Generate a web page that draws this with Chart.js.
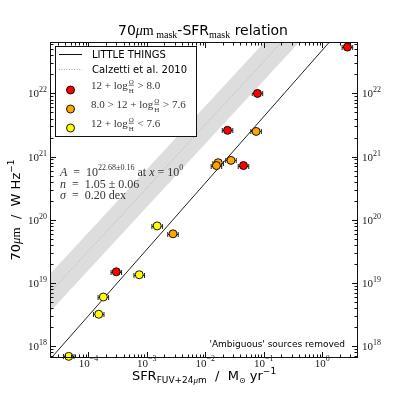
<!DOCTYPE html>
<html>
<head>
<meta charset="utf-8">
<script src="https://cdn.jsdelivr.net/npm/chart.js@4.4.0/dist/chart.umd.min.js"></script>
<style>
  html, body { margin: 0; padding: 0; background: #fff; }
</style>
</head>
<body>
<canvas id="myChart" width="399" height="399"></canvas>
<script>
// datos (SFR en Msun/yr, L70 en W/Hz, error en dex)
const redSfr = [2.7, 0.078, 0.024, 0.045, 3.0e-4];
const redL70 = [5.4e22, 1.0e22, 2.6e21, 7.2e20, 1.5e19];
const redErr = [0.09, 0.09, 0.09, 0.09, 0.09];

const orangeSfr = [0.074, 0.0166, 0.0155, 0.0275, 0.0028];
const orangeL70 = [2.5e21, 8.0e20, 7.2e20, 8.7e20, 6.0e19];
const orangeErr = [0.09, 0.09, 0.09, 0.09, 0.09];

const yellowSfr = [0.0015, 7.4e-4, 1.8e-4, 1.5e-4, 4.6e-5];
const yellowL70 = [8.0e19, 1.35e19, 6.0e18, 3.2e18, 6.9e17];
const yellowErr = [0.09, 0.09, 0.09, 0.09, 0.09];

// LITTLE THINGS fit, end points
const fitSfr = [1e-5, 10];
const fitL70 = [2.7e17, 5.4e23];

// Calzetti et al. 2010 band
const calzSfr = [1e-5, 10];
const calzMid = [3.2e18, 3.2e24];
const calzLow = [1.6e18, 1.6e24];
const calzHigh = [6.3e18, 6.3e24];

const xTicks = [1e-4, 1e-3, 1e-2, 1e-1, 1];
const xTickLabels = ["\u22124", "\u22123", "\u22122", "\u22121", "0"];
const yTicks = [1e18, 1e19, 1e20, 1e21, 1e22];
const yTickLabels = ["18", "19", "20", "21", "22"];
const xRange = [2.2e-5, 4.1];
const yRange = [6.5e17, 6.5e22];

const SERIF = '"Liberation Serif", "DejaVu Serif", serif';
const SANS = '"DejaVu Sans", sans-serif';

function toPoints(xs, ys) {
  return xs.map((x, i) => ({ x: x, y: ys[i] }));
}

function drawRich(ctx, parts, x, y, align) {
  const widths = parts.map((p) => {
    ctx.font = p.f;
    if (p.frac) {
      return Math.max(ctx.measureText(p.frac[0]).width, ctx.measureText(p.frac[1]).width) + 2;
    }
    return ctx.measureText(p.t).width;
  });
  const total = widths.reduce((a, b) => a + b, 0);
  let cx = x;
  if (align === "center") cx = x - total / 2;
  if (align === "right") cx = x - total;
  ctx.textBaseline = "alphabetic";
  parts.forEach((p, i) => {
    ctx.font = p.f;
    if (p.frac) {
      const w = widths[i];
      ctx.textAlign = "center";
      ctx.fillText(p.frac[0], cx + w / 2, y - 5);
      ctx.fillText(p.frac[1], cx + w / 2, y + 3.5);
      ctx.fillRect(cx + 1, y - 4.2, w - 2, 0.7);
    } else {
      ctx.textAlign = "left";
      ctx.fillText(p.t, cx, y + (p.dy || 0));
    }
    cx += widths[i];
  });
}

function drawErrorBars(chart) {
  const ctx = chart.ctx;
  const sx = chart.scales.x, sy = chart.scales.y;
  ctx.save();
  ctx.strokeStyle = "#222";
  ctx.lineWidth = 1;
  chart.data.datasets.forEach((ds) => {
    if (!ds.errDex) return;
    ds.data.forEach((p, i) => {
      const f = Math.pow(10, ds.errDex[i]);
      const x0 = sx.getPixelForValue(p.x / f);
      const x1 = sx.getPixelForValue(p.x * f);
      const py = Math.round(sy.getPixelForValue(p.y)) + 0.5;
      ctx.beginPath();
      ctx.moveTo(x0, py); ctx.lineTo(x1, py);
      ctx.moveTo(x0, py - 2.5); ctx.lineTo(x0, py + 2.5);
      ctx.moveTo(x1, py - 2.5); ctx.lineTo(x1, py + 2.5);
      ctx.stroke();
    });
  });
  ctx.restore();
}

function minorValues(range) {
  const out = [];
  for (let k = -6; k <= 24; k++) {
    for (let m = 1; m <= 9; m++) {
      const v = m * Math.pow(10, k);
      if (v >= range[0] && v <= range[1]) out.push({ v: v, major: m === 1 });
    }
  }
  return out;
}

function drawFrame(chart) {
  const ctx = chart.ctx;
  const a = chart.chartArea;
  const sx = chart.scales.x, sy = chart.scales.y;
  ctx.save();
  ctx.strokeStyle = "#111";
  ctx.lineWidth = 1;
  ctx.strokeRect(a.left + 0.5, a.top + 0.5, a.right - a.left - 1, a.bottom - a.top - 1);

  ctx.beginPath();
  minorValues(xRange).forEach((t) => {
    const px = Math.round(sx.getPixelForValue(t.v)) + 0.5;
    const len = t.major ? 6 : 3.5;
    ctx.moveTo(px, a.bottom); ctx.lineTo(px, a.bottom - len);
    ctx.moveTo(px, a.top); ctx.lineTo(px, a.top + len);
  });
  minorValues(yRange).forEach((t) => {
    const py = Math.round(sy.getPixelForValue(t.v)) + 0.5;
    const len = t.major ? 6 : 3.5;
    ctx.moveTo(a.left, py); ctx.lineTo(a.left + len, py);
    ctx.moveTo(a.right, py); ctx.lineTo(a.right - len, py);
  });
  ctx.stroke();

  // etiquetas de los ejes
  ctx.fillStyle = "#222";
  xTicks.forEach((v, i) => {
    const px = sx.getPixelForValue(v);
    drawRich(ctx, [
      { t: "10", f: "11px " + SERIF },
      { t: xTickLabels[i], f: "8px " + SERIF, dy: -6 },
    ], px, 367, "center");
  });
  yTicks.forEach((v, i) => {
    const py = sy.getPixelForValue(v);
    const parts = [
      { t: "10", f: "11px " + SERIF },
      { t: yTickLabels[i], f: "8px " + SERIF, dy: -5 },
    ];
    drawRich(ctx, parts, a.left - 3, py + 4, "right");
    drawRich(ctx, parts, a.right + 4, py + 4, "left");
  });

  ctx.fillStyle = "#000";
  // titulo
  drawRich(ctx, [
    { t: "70", f: "14px " + SANS },
    { t: "\u03bc", f: "italic 14px " + SERIF },
    { t: "m", f: "14px " + SERIF },
    { t: " mask", f: "10px " + SERIF, dy: 3 },
    { t: "-SFR", f: "14px " + SANS },
    { t: "mask", f: "10px " + SERIF, dy: 3 },
    { t: " relation", f: "14px " + SANS },
  ], 203, 35, "center");

  // eje x
  drawRich(ctx, [
    { t: "SFR", f: "13px " + SANS },
    { t: "FUV+24", f: "9px " + SANS, dy: 3 },
    { t: "\u03bc", f: "italic 9px " + SERIF, dy: 3 },
    { t: "m", f: "9px " + SANS, dy: 3 },
    { t: "  /  M", f: "13px " + SANS },
    { t: "\u2299", f: "8px " + SANS, dy: 3 },
    { t: " yr", f: "13px " + SANS },
    { t: "\u22121", f: "9px " + SANS, dy: -6 },
  ], 204, 380, "center");

  // eje y
  ctx.save();
  ctx.translate(20, 210);
  ctx.rotate(-Math.PI / 2);
  drawRich(ctx, [
    { t: "70", f: "13px " + SANS },
    { t: "\u03bc", f: "italic 13px " + SERIF },
    { t: "m", f: "13px " + SERIF },
    { t: "  /  W Hz", f: "13px " + SANS },
    { t: "\u22121", f: "9px " + SANS, dy: -6 },
  ], 0, 0, "center");
  ctx.restore();

  // leyenda
  ctx.fillStyle = "#fff";
  ctx.fillRect(55, 46, 141, 90);
  ctx.strokeStyle = "#111";
  ctx.strokeRect(55.5, 46.5, 141, 90);
  ctx.beginPath();
  ctx.moveTo(59, 54.5); ctx.lineTo(82, 54.5);
  ctx.stroke();
  ctx.save();
  ctx.strokeStyle = "#aaa";
  ctx.setLineDash([1, 1.5]);
  ctx.beginPath();
  ctx.moveTo(59, 69.5); ctx.lineTo(82, 69.5);
  ctx.stroke();
  ctx.restore();
  ctx.fillStyle = "#000";
  ctx.font = "10px " + SANS;
  ctx.textAlign = "left";
  ctx.fillText("LITTLE THINGS", 92, 57.5);
  ctx.fillText("Calzetti et al. 2010", 92, 72.5);

  const rows = [
    { c: "#ff0000", y: 90, parts: [{ t: "12 + log" }, { frac: ["O", "H"] }, { t: " > 8.0" }] },
    { c: "#ffa500", y: 109, parts: [{ t: "8.0 > 12 + log" }, { frac: ["O", "H"] }, { t: " > 7.6" }] },
    { c: "#ffff00", y: 128, parts: [{ t: "12 + log" }, { frac: ["O", "H"] }, { t: " < 7.6" }] },
  ];
  rows.forEach((r) => {
    ctx.beginPath();
    ctx.arc(70.5, r.y, 4, 0, Math.PI * 2);
    ctx.fillStyle = r.c;
    ctx.fill();
    ctx.lineWidth = 0.9;
    ctx.strokeStyle = "#000";
    ctx.stroke();
    ctx.fillStyle = "#333";
    const parts = r.parts.map((p) => Object.assign({ f: p.frac ? "7px " + SERIF : "11px " + SERIF }, p));
    drawRich(ctx, parts, 91, r.y - 1, "left");
  });

  // texto del ajuste
  ctx.fillStyle = "#333";
  drawRich(ctx, [
    { t: "A", f: "italic 12px " + SERIF },
    { t: "  =  10", f: "12px " + SERIF },
    { t: "22.68\u00b10.16", f: "8px " + SERIF, dy: -6 },
    { t: " at ", f: "12px " + SERIF },
    { t: "x", f: "italic 12px " + SERIF },
    { t: " = 10", f: "12px " + SERIF },
    { t: "0", f: "8px " + SERIF, dy: -6 },
  ], 60, 176, "left");
  drawRich(ctx, [
    { t: "n", f: "italic 12px " + SERIF },
    { t: "  =  1.05 \u00b1 0.06", f: "12px " + SERIF },
  ], 60, 187.5, "left");
  drawRich(ctx, [
    { t: "\u03c3", f: "italic 12px " + SERIF },
    { t: "  =  0.20 dex", f: "12px " + SERIF },
  ], 60, 198.5, "left");

  ctx.fillStyle = "#000";
  ctx.font = "9px " + SANS;
  ctx.textAlign = "right";
  ctx.fillText("'Ambiguous' sources removed", 345, 347);
  ctx.restore();
}

const marcoPlugin = {
  id: "marco",
  beforeDatasetsDraw(chart) { drawErrorBars(chart); },
  afterDatasetsDraw(chart) { drawFrame(chart); },
};

function dibujarGrafica() {
  const ctx = document.getElementById("myChart").getContext("2d");
  const scatterStyle = { pointRadius: 4, borderWidth: 0.9, borderColor: "#000", clip: false, showLine: false };
  new Chart(ctx, {
    type: "scatter",
    data: {
      datasets: [
        Object.assign({ label: "red", data: toPoints(redSfr, redL70), errDex: redErr, backgroundColor: "#ff0000" }, scatterStyle),
        Object.assign({ label: "orange", data: toPoints(orangeSfr, orangeL70), errDex: orangeErr, backgroundColor: "#ffa500" }, scatterStyle),
        Object.assign({ label: "yellow", data: toPoints(yellowSfr, yellowL70), errDex: yellowErr, backgroundColor: "#ffff00" }, scatterStyle),
        { label: "LITTLE THINGS", data: toPoints(fitSfr, fitL70), showLine: true, pointRadius: 0, borderColor: "#222", borderWidth: 1, fill: false },
        { label: "Calzetti", data: toPoints(calzSfr, calzMid), showLine: true, pointRadius: 0, borderColor: "#aaa", borderWidth: 0.8, borderDash: [1, 1.5], fill: false },
        { label: "high", data: toPoints(calzSfr, calzHigh), showLine: true, pointRadius: 0, borderWidth: 0, backgroundColor: "#dddddd", fill: "+1" },
        { label: "low", data: toPoints(calzSfr, calzLow), showLine: true, pointRadius: 0, borderWidth: 0, fill: false },
      ],
    },
    options: {
      responsive: false,
      animation: false,
      devicePixelRatio: 1,
      events: [],
      layout: { padding: { left: 50, top: 42, right: 41, bottom: 41 } },
      scales: {
        x: { type: "logarithmic", min: xRange[0], max: xRange[1], display: false },
        y: { type: "logarithmic", min: yRange[0], max: yRange[1], display: false },
      },
      plugins: { legend: { display: false }, tooltip: { enabled: false } },
    },
    plugins: [marcoPlugin],
  });
}

dibujarGrafica();
</script>
</body>
</html>
